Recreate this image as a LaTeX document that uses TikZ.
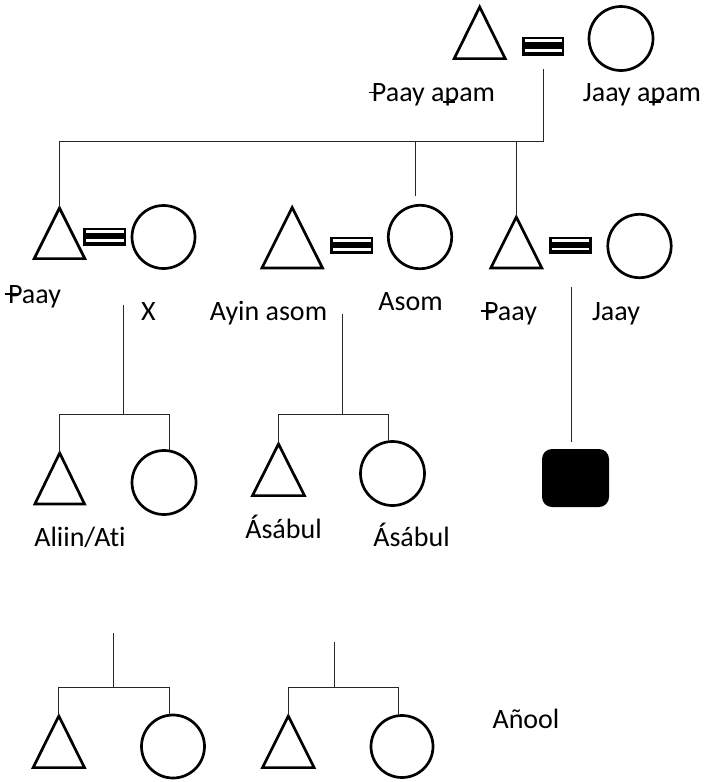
\documentclass[tikz,border=0pt]{standalone}
\usepackage{fontspec}
\setmainfont[Ligatures=NoCommon]{Carlito}
\newcommand{\Pst}{\makebox[0pt][l]{\kern-0.12em\rule[0.3em]{0.5em}{0.055em}}P}
\newcommand{\pst}{\makebox[0pt][l]{\kern-0.07em\rule[-0.05em]{0.44em}{0.06em}}p}
\newcommand{\tri}[5]{% name, apex x, apex y, half width, base y
  \coordinate (#1) at (#2,#3);
  \draw[sym] (#2,#3) -- ({#2+#4},#5) -- ({#2-#4},#5) -- cycle;}
\newcommand{\marr}[5]{% name, x1, y1, x2, y2
  \fill (#2,#3) rectangle (#4,#5);
  \fill[white] ({#2+3},{#3+0.14*(#5-#3)}) rectangle ({#4-2.5},{#3+0.295*(#5-#3)});
  \fill[white] ({#2+3},{#3+0.65*(#5-#3)}) rectangle ({#4-2.5},{#3+0.79*(#5-#3)});
  \coordinate (#1) at ({(#2+#4)/2},{(#3+#5)/2});}
\begin{document}
\begin{tikzpicture}[x=1pt,y=-1pt,
  conn/.style={line width=1pt, black!85},
  sym/.style={line width=2.7pt, line join=miter},
  circ/.style={circle, draw, sym, inner sep=0pt, outer sep=0pt, minimum size=#1},
  lbl/.style={anchor=base, inner sep=0pt, font=\fontsize{28}{34}\selectfont}]
\useasboundingbox[fill=white] (0,0) rectangle (705,782);

% ---------- generation 1 ----------
\tri{T0}{479.7}{7}{25.5}{58.6}
\marr{M0}{522}{36.7}{564}{55.7}
\node[circ=64pt] (C0) at (621,38.5) {};
\node[lbl] (L0a) at (433.5,101.6) {\Pst aay a\pst am};
\node[lbl] (L0b) at (642,101.6) {Jaay a\pst am};

% ---------- generation 2 ----------
\tri{T1}{59.5}{208}{25.3}{258.6}
\marr{M1}{83.3}{227.7}{126}{245.5}
\node[circ=63pt] (C1) at (163.5,237) {};
\tri{T2}{292.2}{207.5}{30.3}{268}
\marr{M2}{330}{236.7}{373}{254.3}
\node[circ=63.4pt] (C2) at (420,237) {};
\tri{T3}{516.3}{217}{25.5}{268}
\marr{M3}{549.3}{236.7}{591.7}{254}
\node[circ=63.4pt] (C3) at (639.5,246) {};

\node[lbl] (L1a) at (34.5,303) {\Pst aay};
\node[lbl] (L1b) at (148.5,320.5) {X};
\node[lbl] (L2a) at (268.5,320) {Ayin asom};
\node[lbl] (L2b) at (410.5,310) {Asom};
\node[lbl] (L3a) at (510.5,320) {\Pst aay};
\node[lbl] (L3b) at (616,320) {Jaay};

% ---------- generation 3 ----------
\tri{T4}{59.7}{453}{24.8}{504}
\node[circ=64pt] (C4) at (164,482.5) {};
\tri{T5}{278.5}{444}{26}{495.6}
\node[circ=64pt] (C5) at (392.5,473.5) {};
\node[fill, rounded corners=10pt, inner sep=0pt, minimum width=67pt, minimum height=58pt] (SQ) at (575.5,478) {};

\node[lbl] (L4) at (80,546.7) {Aliin/Ati};
\node[lbl] (L5a) at (283.5,538.3) {Ásábul};
\node[lbl] (L5b) at (411.5,546.7) {Ásábul};

% ---------- generation 4 ----------
\tri{T6}{58.8}{716}{25.7}{767.6}
\node[circ=63pt] (C6) at (173,746.5) {};
\tri{T7}{288.3}{716}{25.8}{767.6}
\node[circ=62pt] (C7) at (402,746.5) {};
\node[lbl] (L6) at (526,728.3) {Añool};

% ---------- connectors ----------
\coordinate (t0) at (543,69);
\coordinate (j0) at (543,141);
\coordinate (d2) at (415.5,195.7);
\draw[conn] (t0) -- (j0) -- (T1 |- j0) -- (T1);
\draw[conn] (d2) -- (d2 |- j0);
\draw[conn] (T3) -- (T3 |- j0);

\coordinate (f1) at (123,305);
\coordinate (j1) at (123,414);
\coordinate (e4) at (169,449.5);
\draw[conn] (f1) -- (j1);
\draw[conn] (T4) -- (T4 |- j1) -- (e4 |- j1) -- (e4);

\coordinate (f2) at (342,314);
\coordinate (j2) at (342,414);
\coordinate (e5) at (388.5,440.5);
\draw[conn] (f2) -- (j2);
\draw[conn] (T5) -- (T5 |- j2) -- (e5 |- j2) -- (e5);

\coordinate (f3) at (571,287);
\coordinate (e3) at (571,442);
\draw[conn] (f3) -- (e3);

\coordinate (f6) at (113.5,633);
\coordinate (j6) at (113.5,687);
\coordinate (e6) at (169.4,714.5);
\draw[conn] (f6) -- (j6);
\draw[conn] (T6) -- (T6 |- j6) -- (e6 |- j6) -- (e6);

\coordinate (f7) at (334,642);
\coordinate (j7) at (334,687);
\coordinate (e7) at (398,714.5);
\draw[conn] (f7) -- (j7);
\draw[conn] (T7) -- (T7 |- j7) -- (e7 |- j7) -- (e7);
\end{tikzpicture}
\end{document}
